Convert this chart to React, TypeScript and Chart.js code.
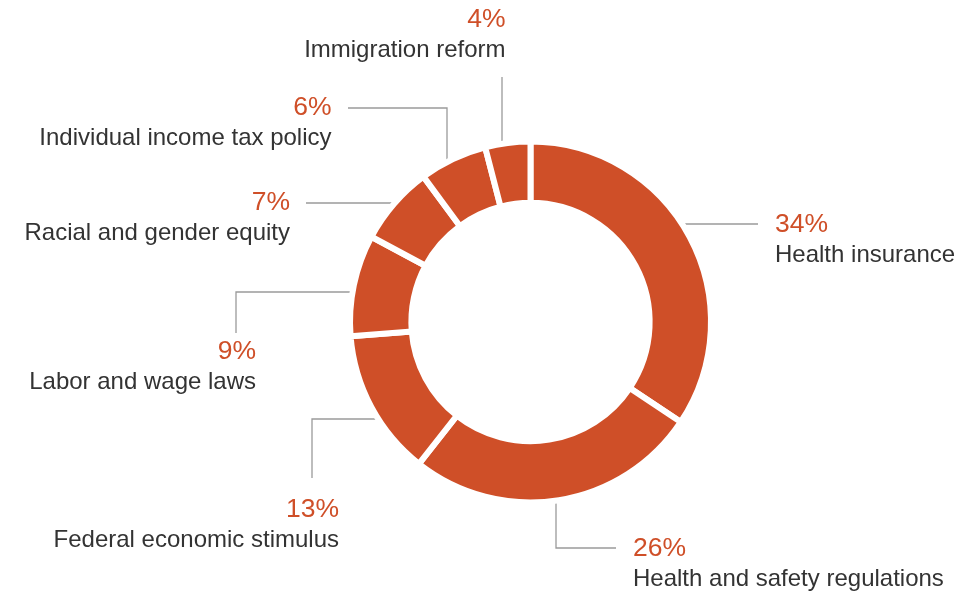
import { useEffect, useRef } from 'react'
import { Chart, registerables } from 'chart.js'

Chart.register(...registerables)

const categories = [
  'Health insurance',
  'Health and safety regulations',
  'Federal economic stimulus',
  'Labor and wage laws',
  'Racial and gender equity',
  'Individual income tax policy',
  'Immigration reform',
]
const shares = [34, 26, 13, 9, 7, 6, 4]

const ORANGE = '#cf4f28'
const TEXT = '#333333'
const RULE = '#9a9a9a'
const FONT = "'Liberation Sans', Arial, Helvetica, sans-serif"

// leader layout, offsets from the ring centre.
// dir 'h': first leg leaves the ring horizontally at y = at (side picks left/right edge)
// dir 'v': first leg leaves the ring vertically at x = at (side picks top/bottom edge)
type Leader = {
  dir: 'h' | 'v'
  at: number
  side: 1 | -1
  legs: [number, number][]
  align: 'left' | 'right'
  tx: number
  ty: number
}

const leaders: Leader[] = [
  { dir: 'h', at: -98, side: 1, legs: [[227.5, -98]], align: 'left', tx: 244.5, ty: -97 },
  { dir: 'v', at: 25.5, side: 1, legs: [[25.5, 226], [85.5, 226]], align: 'left', tx: 102.5, ty: 227 },
  { dir: 'h', at: 97, side: -1, legs: [[-218.5, 97], [-218.5, 156]], align: 'right', tx: -191.5, ty: 188 },
  { dir: 'h', at: -30, side: -1, legs: [[-294.5, -30], [-294.5, 11]], align: 'right', tx: -274.5, ty: 30 },
  { dir: 'h', at: -119, side: -1, legs: [[-224.5, -119]], align: 'right', tx: -240.5, ty: -119 },
  { dir: 'v', at: -83.5, side: -1, legs: [[-83.5, -214], [-182.5, -214]], align: 'right', tx: -199, ty: -214 },
  { dir: 'v', at: -28.5, side: -1, legs: [[-28.5, -245]], align: 'right', tx: -25, ty: -302 },
]

const leaderLines = {
  id: 'leaderLines',
  beforeDatasetsDraw(chart: Chart) {
    const arc = chart.getDatasetMeta(0).data[0] as any
    if (!arc) return
    const { x: cx, y: cy, outerRadius } = arc
    const r = outerRadius - 6
    const ctx = chart.ctx
    ctx.save()
    ctx.strokeStyle = RULE
    ctx.lineWidth = 1.3
    leaders.forEach((l) => {
      ctx.beginPath()
      if (l.dir === 'h') {
        const dx = Math.sqrt(Math.max(r * r - l.at * l.at, 0))
        ctx.moveTo(cx + l.side * dx, cy + l.at)
      } else {
        const dy = Math.sqrt(Math.max(r * r - l.at * l.at, 0))
        ctx.moveTo(cx + l.at, cy + l.side * dy)
      }
      l.legs.forEach(([px, py]) => ctx.lineTo(cx + px, cy + py))
      ctx.stroke()
    })
    ctx.restore()
  },
  afterDraw(chart: Chart) {
    const arc = chart.getDatasetMeta(0).data[0] as any
    if (!arc) return
    const { x: cx, y: cy } = arc
    const ctx = chart.ctx
    ctx.save()
    ctx.textBaseline = 'middle'
    leaders.forEach((l, i) => {
      ctx.textAlign = l.align
      ctx.fillStyle = ORANGE
      ctx.font = `26.5px ${FONT}`
      ctx.fillText(`${shares[i]}%`, cx + l.tx, cy + l.ty)
      ctx.fillStyle = TEXT
      ctx.font = `24px ${FONT}`
      ctx.fillText(categories[i], cx + l.tx, cy + l.ty + 30)
    })
    ctx.restore()
  },
}

export default function App() {
  const canvasRef = useRef<HTMLCanvasElement>(null)
  const chartRef = useRef<Chart | null>(null)

  useEffect(() => {
    document.body.style.margin = '0'
    if (!canvasRef.current) return
    chartRef.current?.destroy()

    chartRef.current = new Chart(canvasRef.current, {
      type: 'doughnut',
      data: {
        labels: categories,
        datasets: [
          {
            data: shares,
            backgroundColor: ORANGE,
            borderColor: '#ffffff',
            borderWidth: 6,
            hoverOffset: 0,
          },
        ],
      },
      options: {
        responsive: true,
        maintainAspectRatio: false,
        animation: false,
        cutout: '66%',
        layout: { padding: { left: 347, right: 262, top: 138.5, bottom: 88.5 } },
        events: [],
        plugins: {
          legend: { display: false },
          tooltip: { enabled: false },
        },
      },
      plugins: [leaderLines],
    })

    return () => {
      chartRef.current?.destroy()
      chartRef.current = null
    }
  }, [])

  return (
    <div style={{ width: 976, height: 594, position: 'relative', background: '#fff' }}>
      <canvas ref={canvasRef} />
    </div>
  )
}
